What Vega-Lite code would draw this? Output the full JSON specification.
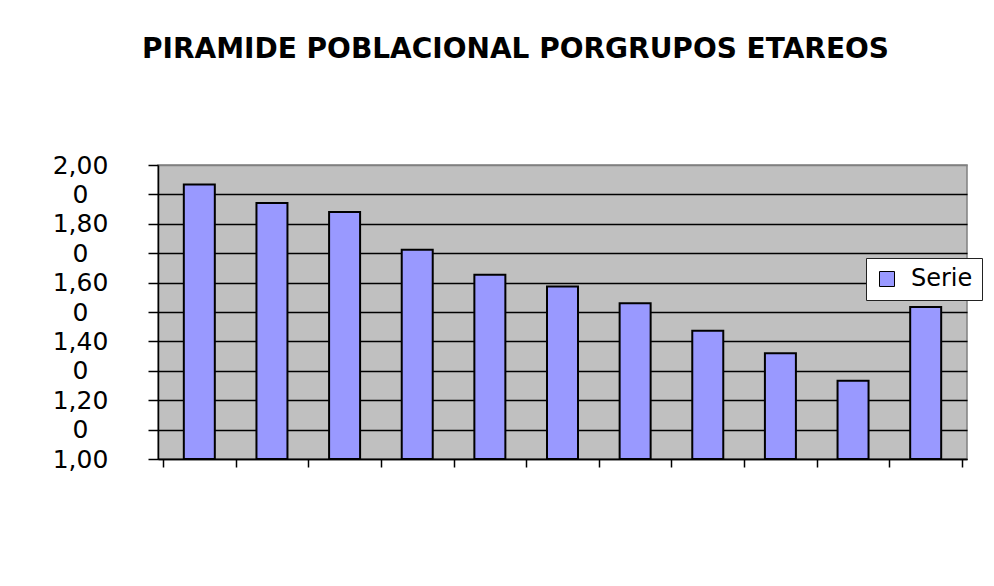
{
  "$schema": "https://vega.github.io/schema/vega-lite/v6.json",
  "width": 809,
  "height": 294,
  "autosize": {"type": "none"},
  "padding": {"left": 158, "top": 165, "right": 27, "bottom": 127},
  "background": "white",
  "title": {
    "text": "PIRAMIDE POBLACIONAL PORGRUPOS ETAREOS",
    "font": "DejaVu Sans",
    "fontSize": 28,
    "fontWeight": "bold",
    "color": "black",
    "anchor": "middle",
    "frame": "group",
    "dx": -47,
    "baseline": "alphabetic",
    "offset": 67
  },
  "data": {
    "values": [
      {"grupo": 1, "valor": 1934},
      {"grupo": 2, "valor": 1871},
      {"grupo": 3, "valor": 1840},
      {"grupo": 4, "valor": 1712},
      {"grupo": 5, "valor": 1627},
      {"grupo": 6, "valor": 1587},
      {"grupo": 7, "valor": 1530},
      {"grupo": 8, "valor": 1436},
      {"grupo": 9, "valor": 1360},
      {"grupo": 10, "valor": 1266},
      {"grupo": 11, "valor": 1517}
    ]
  },
  "mark": {"type": "bar", "width": 31, "stroke": "black", "strokeWidth": 2},
  "encoding": {
    "x": {
      "field": "grupo",
      "type": "quantitative",
      "scale": {"domain": [0.5, 11.5], "nice": false, "zero": false},
      "axis": {
        "values": [0.5, 1.5, 2.5, 3.5, 4.5, 5.5, 6.5, 7.5, 8.5, 9.5, 10.5, 11.5],
        "labels": false,
        "title": null,
        "grid": false,
        "tickSize": 8,
        "tickColor": "black",
        "tickWidth": 1.5,
        "domainColor": "black",
        "domainWidth": 1.5
      }
    },
    "y": {
      "field": "valor",
      "type": "quantitative",
      "scale": {"domain": [1000, 2000], "nice": false, "zero": false},
      "axis": {
        "values": [1000, 1100, 1200, 1300, 1400, 1500, 1600, 1700, 1800, 1900, 2000],
        "labelExpr": "datum.value % 200 == 0 ? replace(format(datum.value / 1000, '.2f'), '.', ',') : '0'",
        "title": null,
        "tickSize": 10,
        "tickColor": "black",
        "tickWidth": 1.5,
        "labelPadding": 68,
        "labelAlign": "center",
        "labelBaseline": "middle",
        "labelFont": "DejaVu Sans",
        "labelFontSize": 25,
        "labelColor": "black",
        "labelOverlap": false,
        "labelFlush": false,
        "grid": true,
        "gridColor": {"condition": {"test": "datum.value == 2000", "value": "#808080"}, "value": "black"},
        "gridWidth": 1.5,
        "domainColor": "black",
        "domainWidth": 1.5
      }
    },
    "y2": {"datum": 1000},
    "color": {
      "datum": "Serie",
      "type": "nominal",
      "scale": {"range": ["#9999FF"]},
      "legend": {
        "title": null,
        "orient": "none",
        "legendX": 708,
        "legendY": 93,
        "fillColor": "white",
        "strokeColor": "#222222",
        "padding": 9,
        "symbolType": "square",
        "symbolSize": 225,
        "symbolStrokeColor": "black",
        "symbolStrokeWidth": 1,
        "labelFont": "DejaVu Sans",
        "labelFontSize": 24,
        "labelColor": "black",
        "labelOffset": 12
      }
    }
  },
  "config": {
    "view": {"fill": "#C0C0C0", "stroke": "#808080", "strokeWidth": 1.5}
  }
}
